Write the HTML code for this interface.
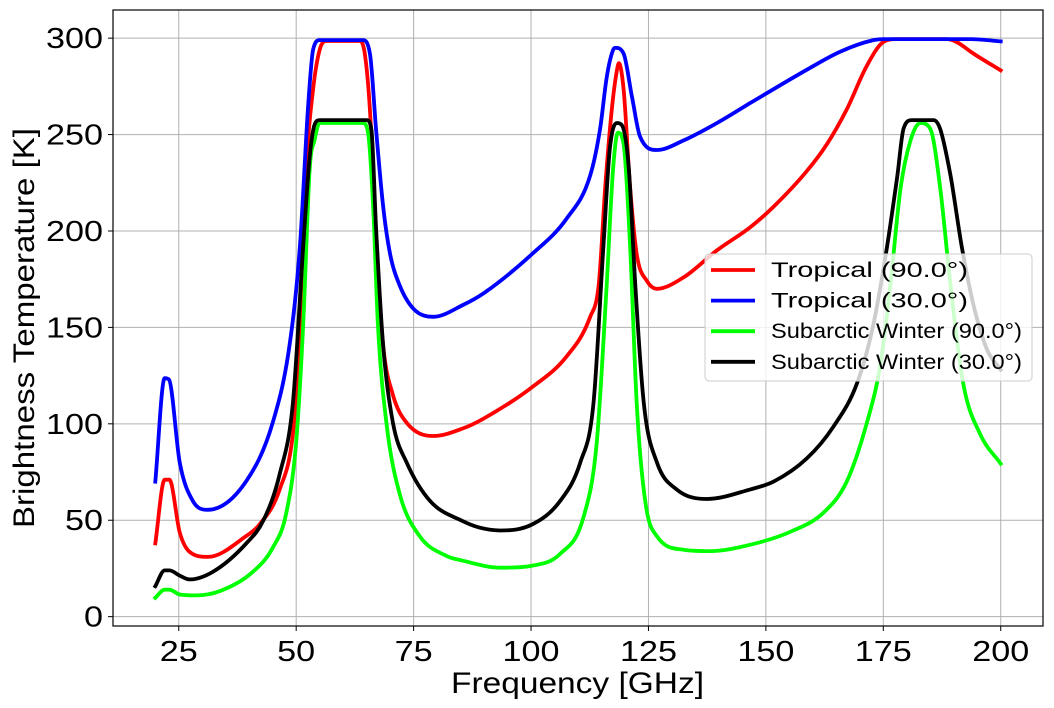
<!DOCTYPE html>
<html><head><meta charset="utf-8"><style>
html,body{margin:0;padding:0;background:#fff;}
svg{display:block;font-family:"Liberation Sans","DejaVu Sans",sans-serif;}
</style></head><body>
<svg id="chart" width="1054" height="708" viewBox="0 0 1054 708" xmlns="http://www.w3.org/2000/svg">
<g id="grid"></g>
<g id="series"></g>
<rect x="113" y="10" width="930" height="616" fill="none" stroke="#000" stroke-width="1.2"/>
<g id="ticks"></g>
<text x="451" y="693" font-size="30" textLength="253" lengthAdjust="spacingAndGlyphs">Frequency [GHz]</text>
<text transform="translate(34,528) rotate(-90)" font-size="30" textLength="400" lengthAdjust="spacingAndGlyphs">Brightness Temperature [K]</text>
<g id="legend"></g>
</svg>
<script>
const xTicks = [25, 50, 75, 100, 125, 150, 175, 200];
const yTicks = [0, 50, 100, 150, 200, 250, 300];
const seriesNames = ["Tropical (90.0°)", "Tropical (30.0°)", "Subarctic Winter (90.0°)", "Subarctic Winter (30.0°)"];
const seriesColors = ["#ff0000", "#0000ff", "#00ff00", "#000000"];

const tropical90Freq = [20,22,23,25.2,27.3,31.2,39.3,42.2,46.5,49.3,51.1,52.2,53.6,55,56.5,63.6,64.6,65.7,67.1,68.5,70.6,73.5,79.2,85.5,89.9,100.2,107.6,112.6,114.4,115.8,117.2,118.3,118.7,119.7,121.1,122.5,124.7,126.8,132.5,139.6,146.7,151.6,158.7,163,167.2,171.5,175,177.8,188.5,190.6,194.2,200];
const tropical90Vals = [38,71,71,43.7,33.6,31,41.7,47.8,66,94.7,151.6,233,273.5,294,298.5,298.5,292,263,192,141,115,100.6,93.7,97.6,102.7,119,135,155.5,172,222.7,263,283.6,287,273.5,222.7,188,174,170,176,190,202,212.5,231,245,263,285.7,298,299.5,299.5,298,292,283.3];

const tropical30Freq = [20,22,22.9,25.2,28,31.2,39.3,45,48.6,50.8,52.5,53.6,55,64.2,65.7,67,68.5,70,72,75,79.2,85.5,89.9,100.2,107.6,112.6,114.7,116.1,117.5,118,119.7,121.5,123.2,126.8,132.5,139.6,146.7,158.7,165.8,172.9,175,193.8,200];
const tropical30Vals = [70,123.7,123,80,60,55.4,70,100.6,141,192,263,294,299,299,292,253,213,188,172,159.6,155.5,161.6,167.7,188,206.5,228.8,253,279.6,294,295,292,269.5,249,242,247,256,266.4,283.6,293,299,299.5,299.5,298.3];

const subarctic90Freq = [20,22,23,25.2,28.7,33.7,40.8,45,47.9,50,51.5,52.9,53.9,55,64.2,65.3,66.4,67.4,69.2,72,76.3,82,85.5,93.5,100.2,106.2,111.2,114,116.1,117.5,118.5,119.7,121.1,122.5,124.3,126.8,132.5,138.1,146.7,155.2,162.3,167.2,171.5,174.4,176.5,178.7,180.8,182.9,185,187.1,189.3,192,195.6,200];
const subarctic90Vals = [9.8,14,14,11.5,11,13.2,23.3,35.7,53.8,90.6,151.6,233,247,256,256,251,212,151.6,100.6,64,41.7,31.5,29,25.4,26.4,32.6,51.8,90.6,172,233,251,245,192,110.8,60,41.7,34.7,34,37.3,44,54,70,100.6,131,172,222.7,247,256,253,222.7,172,121,94.7,79.3];

const subarctic30Freq = [20,22,23,25.2,27.3,32.3,39.3,43,46.5,49.3,51.5,52.9,53.9,55,65,66,67,68.5,70.6,73.5,78.5,85.5,89,93.5,100.2,106.2,110.5,113.3,115.4,116.8,118.3,119.3,120.8,122.2,124,126.8,131,137.4,146.7,151.6,158.7,164.4,169.4,172.9,175.8,178,179.3,181.1,185.7,187.1,189.3,191.7,194.2,197,200];
const subarctic30Vals = [15.8,24,24,21.3,19.3,23.3,37.8,49.8,74,110.8,192,239,255,257.5,257.5,253,202,141,100.6,80,60,49.5,46.2,44.7,47.8,60,80,110.8,192,243,256,255,233,172,110.8,80,66,61,66,70,82,98.6,121,151.6,192,228.8,253,257.5,257.5,253,228.8,192,161.6,139,128];

const allFreq = [tropical90Freq, tropical30Freq, subarctic90Freq, subarctic30Freq];
const allVals = [tropical90Vals, tropical30Vals, subarctic90Vals, subarctic30Vals];

const NS = "http://www.w3.org/2000/svg";
const X0 = 113, X1 = 1043, Y0 = 10, Y1 = 626;
const xMin = 11, xMax = 209;
const yMin = -4.85, yMax = 314.6;
function xs(f){ return X0 + (f - xMin) / (xMax - xMin) * (X1 - X0); }
function ys(v){ return Y1 - (v - yMin) / (yMax - yMin) * (Y1 - Y0); }
function mk(tag, attrs, parent){ const e = document.createElementNS(NS, tag); for (const k in attrs) e.setAttribute(k, attrs[k]); parent.appendChild(e); return e; }

function monoPath(px, py){
  const n = px.length, d = [], m = [];
  for (let i = 0; i < n-1; i++) d.push((py[i+1]-py[i])/(px[i+1]-px[i]));
  m[0] = d[0]; m[n-1] = d[n-2];
  for (let i = 1; i < n-1; i++) m[i] = (d[i-1]*d[i] <= 0) ? 0 : (d[i-1]+d[i])/2;
  for (let i = 0; i < n-1; i++) {
    if (d[i] === 0) { m[i] = 0; m[i+1] = 0; continue; }
    const a = m[i]/d[i], b = m[i+1]/d[i], s = a*a+b*b;
    if (s > 9) { const t = 3/Math.sqrt(s); m[i] = t*a*d[i]; m[i+1] = t*b*d[i]; }
  }
  let p = 'M' + px[0].toFixed(1) + ',' + py[0].toFixed(1);
  for (let i = 0; i < n-1; i++) {
    const h = (px[i+1]-px[i])/3;
    p += ' C' + (px[i]+h).toFixed(1) + ',' + (py[i]+m[i]*h).toFixed(1) + ' ' +
         (px[i+1]-h).toFixed(1) + ',' + (py[i+1]-m[i+1]*h).toFixed(1) + ' ' +
         px[i+1].toFixed(1) + ',' + py[i+1].toFixed(1);
  }
  return p;
}

const grid = document.getElementById('grid');
const ticks = document.getElementById('ticks');
function labelLen(t){ return String(t).length * 19; }
xTicks.forEach(t => {
  const x = xs(t);
  const g = mk('line', {x1:x, x2:x, y1:Y0, y2:Y1, stroke:'#b0b0b0', 'stroke-width':1}, grid);
  
  
  const tk = mk('line', {x1:x, x2:x, y1:Y1, y2:Y1+5, stroke:'#000', 'stroke-width':1}, ticks);
  
  
  const L = labelLen(t);
  const lb = mk('text', {x:x - L/2, y:Y1+35, 'font-size':29, textLength:L, lengthAdjust:'spacingAndGlyphs'}, ticks);
  lb.textContent = t;
  
  
});
yTicks.forEach(t => {
  const y = ys(t);
  const g = mk('line', {x1:X0, x2:X1, y1:y, y2:y, stroke:'#b0b0b0', 'stroke-width':1}, grid);
  
  
  const tk = mk('line', {x1:X0-5, x2:X0, y1:y, y2:y, stroke:'#000', 'stroke-width':1}, ticks);
  
  
  const L = labelLen(t);
  const lb = mk('text', {x:X0-10-L, y:y+10, 'font-size':29, textLength:L, lengthAdjust:'spacingAndGlyphs'}, ticks);
  lb.textContent = t;
  
  
});

const seriesG = document.getElementById('series');
allFreq.forEach((fr, i) => {
  const px = fr.map(xs), py = allVals[i].map(ys);
  const pl = mk('path', {d:monoPath(px, py), fill:'none', stroke:seriesColors[i], 'stroke-width':3.8, 'stroke-linejoin':'round', 'stroke-linecap':'square'}, seriesG);
  
  
});

const leg = document.getElementById('legend');
const box = mk('rect', {x:705, y:254, width:327, height:127, rx:4, fill:'#fff', 'fill-opacity':0.8, stroke:'#cccccc', 'stroke-width':1}, leg);


const legLens = [197, 197, 251, 251];
seriesNames.forEach((n, i) => {
  const y = 270 + i * 30.6;
  const ln = mk('line', {x1:711, x2:755, y1:y, y2:y, stroke:seriesColors[i], 'stroke-width':3.8}, leg);
  
  
  const tx = mk('text', {x:771, y:y+7, 'font-size':21, textLength:legLens[i], lengthAdjust:'spacingAndGlyphs'}, leg);
  tx.textContent = n;
  
  
});
</script>
</body></html>
